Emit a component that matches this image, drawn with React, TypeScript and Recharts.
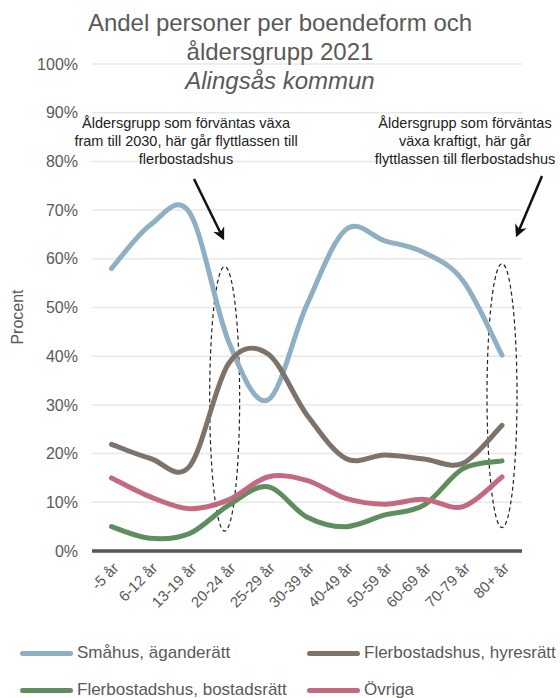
import React from 'react';
import { LineChart, Line, XAxis, YAxis, CartesianGrid, ReferenceLine } from 'recharts';

const ageGroups = ['-5 år', '6-12 år', '13-19 år', '20-24 år', '25-29 år', '30-39 år', '40-49 år', '50-59 år', '60-69 år', '70-79 år', '80+ år'];
const smahus = [58, 67, 69.5, 43, 31, 50.5, 66, 63.7, 61.3, 55.5, 40.2];
const hyresratt = [21.9, 19, 17.4, 38.5, 40.5, 28, 19, 19.7, 18.9, 18, 25.8];
const bostadsratt = [5, 2.6, 3.6, 9.4, 13.2, 7, 5, 7.4, 9.4, 16.9, 18.5];
const ovriga = [15, 11.1, 8.7, 10.5, 15.2, 14.5, 10.8, 9.6, 10.6, 9.1, 15.2];
const yTicks = [0, 10, 20, 30, 40, 50, 60, 70, 80, 90, 100];

const series = [
  { key: 'smahus', name: 'Småhus, äganderätt', color: '#8fb0c4' },
  { key: 'hyresratt', name: 'Flerbostadshus, hyresrätt', color: '#7d736b' },
  { key: 'bostadsratt', name: 'Flerbostadshus, bostadsrätt', color: '#5e8e5e' },
  { key: 'ovriga', name: 'Övriga', color: '#c46a80' },
];

const data = ageGroups.map((age, i) => ({
  age,
  smahus: smahus[i],
  hyresratt: hyresratt[i],
  bostadsratt: bostadsratt[i],
  ovriga: ovriga[i],
}));

// Excel-like smoothed line (uniform Catmull-Rom as cubic beziers)
const excelCurve = (context: any) => {
  let pts: number[][] = [];
  return {
    areaStart() {},
    areaEnd() {},
    lineStart() { pts = []; },
    point(x: number, y: number) { pts.push([+x, +y]); },
    lineEnd() {
      if (!pts.length) return;
      context.moveTo(pts[0][0], pts[0][1]);
      for (let i = 0; i < pts.length - 1; i++) {
        const p0 = pts[i - 1] || pts[i];
        const p1 = pts[i];
        const p2 = pts[i + 1];
        const p3 = pts[i + 2] || pts[i + 1];
        context.bezierCurveTo(
          p1[0] + (p2[0] - p0[0]) / 6, p1[1] + (p2[1] - p0[1]) / 6,
          p2[0] - (p3[0] - p1[0]) / 6, p2[1] - (p3[1] - p1[1]) / 6,
          p2[0], p2[1]
        );
      }
    },
  };
};

const font = '"Liberation Sans", Arial, sans-serif';
const grey = '#595959';

function AgeTick({ x, y, payload }: any) {
  return (
    <g transform={`translate(${x + 8},${y + 10})`}>
      <text transform="rotate(-45)" textAnchor="end" fill={grey} fontSize={15} fontFamily={font}>
        {payload.value}
      </text>
    </g>
  );
}

function Ellipse(props: any) {
  const { x1, y1, x2, y2 } = props;
  return (
    <ellipse
      cx={x1 - 4 + (x2 - x1) / 2}
      cy={(y1 + y2) / 2}
      rx={15}
      ry={Math.abs(y2 - y1) / 2}
      fill="none"
      stroke="#222"
      strokeWidth={1.2}
      strokeDasharray="4 3"
    />
  );
}

export default function App() {
  return (
    <div style={{ position: 'absolute', left: 0, top: 0, width: 560, height: 698, background: '#fff', fontFamily: font }}>
      <LineChart width={560} height={698} data={data} margin={{ top: 64, right: 38, bottom: 87, left: 0 }}>
        <CartesianGrid horizontal vertical={false} stroke="#e8e8e8" strokeWidth={1.5} />
        <XAxis
          dataKey="age"
          interval={0}
          height={60}
          padding={{ left: 19.5, right: 20 }}
          tickLine={false}
          axisLine={{ stroke: '#5d5550', strokeWidth: 3.5 }}
          tick={<AgeTick />}
        />
        <YAxis
          width={92}
          domain={[0, 100]}
          ticks={yTicks}
          tickFormatter={(v) => `${v}%`}
          tickLine={false}
          axisLine={false}
          tickMargin={8}
          tick={{ fill: grey, fontSize: 16, fontFamily: font }}
        />
        <ReferenceLine
          segment={[{ x: '20-24 år', y: 4.1 }, { x: '20-24 år', y: 58.4 }]}
          shape={Ellipse}
        />
        <ReferenceLine
          segment={[{ x: '80+ år', y: 4.8 }, { x: '80+ år', y: 59 }]}
          shape={(p: any) => <Ellipse {...p} x1={p.x1 + 4} x2={p.x2 + 4} />}
        />
        {series.map((s) => (
          <Line
            key={s.key}
            dataKey={s.key}
            name={s.name}
            type={excelCurve as any}
            stroke={s.color}
            strokeWidth={5}
            strokeLinecap="round"
            dot={false}
            activeDot={false}
            isAnimationActive={false}
          />
        ))}
      </LineChart>

      <div style={{ position: 'absolute', left: 0, top: 8, width: 560, textAlign: 'center', color: grey, fontSize: 24, lineHeight: '29px' }}>
        <div>Andel personer per boendeform och</div>
        <div>åldersgrupp 2021</div>
        <div style={{ fontStyle: 'italic' }}>Alingsås kommun</div>
      </div>

      <div style={{ position: 'absolute', left: 10, top: 317, transform: 'translate(-50%,-50%) rotate(-90deg)', transformOrigin: 'center', marginLeft: 8, color: grey, fontSize: 16 }}>
        Procent
      </div>

      <svg width={560} height={698} style={{ position: 'absolute', left: 0, top: 0, pointerEvents: 'none' }}>
        <defs>
          <marker id="head" viewBox="0 0 10 10" refX="8" refY="5" markerWidth="5" markerHeight="5" orient="auto">
            <path d="M0,0 L10,5 L0,10 L3,5 z" fill="#111" />
          </marker>
        </defs>
        <text textAnchor="middle" fontSize={14.5} fontFamily={font} fill="#222">
          <tspan x={186} y={128}>Åldersgrupp som förväntas växa</tspan>
          <tspan x={186} y={146}>fram till 2030, här går flyttlassen till</tspan>
          <tspan x={186} y={164}>flerbostadshus</tspan>
        </text>
        <text textAnchor="middle" fontSize={14.5} fontFamily={font} fill="#222">
          <tspan x={465} y={128}>Åldersgrupp som förväntas</tspan>
          <tspan x={465} y={146}>växa kraftigt, här går</tspan>
          <tspan x={465} y={164}>flyttlassen till flerbostadshus</tspan>
        </text>
        <line x1={194} y1={179} x2={223} y2={238} stroke="#111" strokeWidth={2.5} markerEnd="url(#head)" />
        <line x1={542} y1={176} x2={517} y2={235} stroke="#111" strokeWidth={2.5} markerEnd="url(#head)" />
      </svg>

      {series.map((s, i) => (
        <div
          key={s.key}
          style={{
            position: 'absolute',
            left: i % 2 === 0 ? 20 : 307,
            top: i < 2 ? 643 : 680,
            height: 20,
            display: 'flex',
            alignItems: 'center',
            color: grey,
            fontSize: 17,
            whiteSpace: 'nowrap',
          }}
        >
          <span style={{ display: 'inline-block', width: 53, height: 5, borderRadius: 3, background: s.color, marginRight: 4 }} />
          {s.name}
        </div>
      ))}
    </div>
  );
}
